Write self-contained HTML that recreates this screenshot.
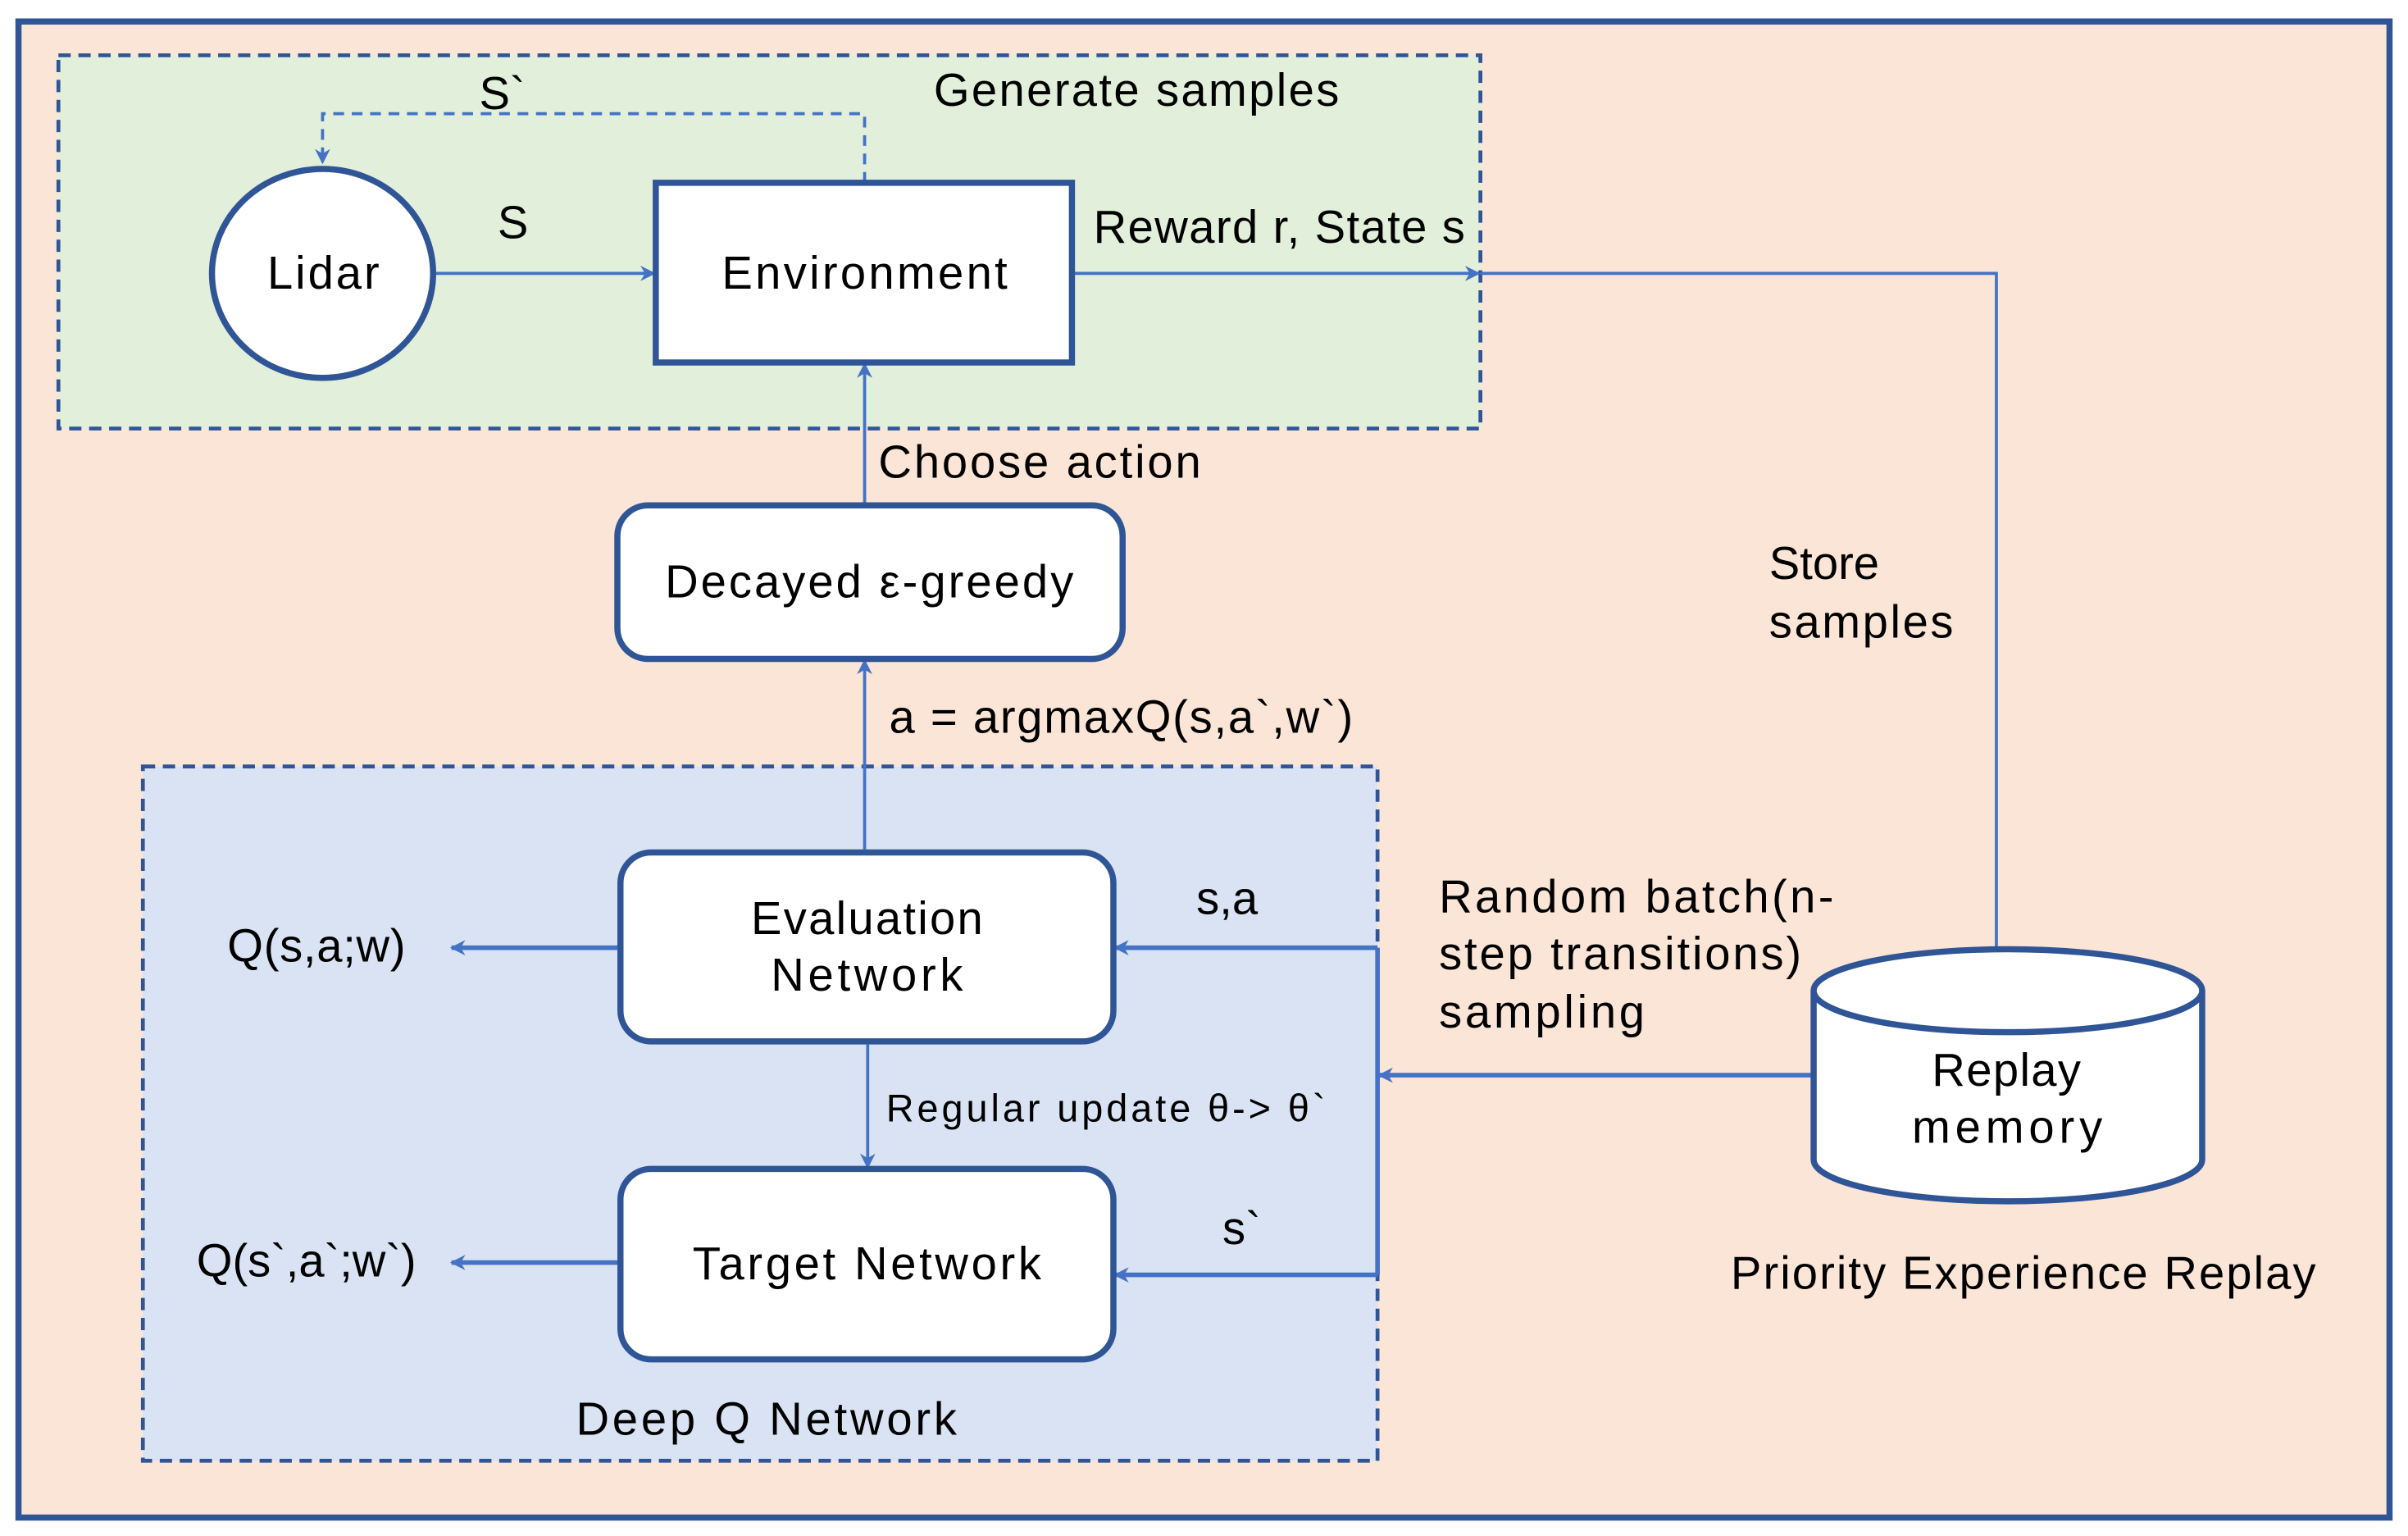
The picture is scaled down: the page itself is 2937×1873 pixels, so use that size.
<!DOCTYPE html>
<html><head><meta charset="utf-8"><style>
html,body{margin:0;padding:0;background:#fff;}
svg{display:block;}
text{font-family:"Liberation Sans",sans-serif;fill:#000;}
</style></head><body>
<svg width="2937" height="1873" viewBox="0 0 1568 1000" xmlns="http://www.w3.org/2000/svg">
<defs>
<marker id="ar" markerWidth="10" markerHeight="10" refX="9" refY="5" orient="auto" markerUnits="userSpaceOnUse">
<path d="M0,0 L10,5 L0,10 L3,5 Z" fill="#4472c4"/></marker>
</defs>
<rect x="0" y="0" width="1568" height="1000" fill="#fff"/>
<rect x="12" y="14" width="1544" height="974" fill="#fbe5d6" stroke="#2f5597" stroke-width="4"/>
<rect x="38" y="36" width="926" height="243" fill="#e2efda" stroke="#2f5597" stroke-width="2.5" stroke-dasharray="8,5"/>
<rect x="93" y="499" width="804" height="452" fill="#dae3f3" stroke="#2f5597" stroke-width="2.5" stroke-dasharray="8,5"/>

<g stroke="#4472c4" stroke-width="2" fill="none">
<path d="M563,119 V74 H210 V106" stroke-dasharray="7,5" marker-end="url(#ar)"/>
<path d="M284,178 L426,178" marker-end="url(#ar)"/>
<path d="M698,178 L963,178" marker-end="url(#ar)"/>
<path d="M964,178 H1300 V618"/>
<path d="M563,328 V237" marker-end="url(#ar)"/>
<path d="M563,553 V430" marker-end="url(#ar)"/>
<path d="M565,680 V760" marker-end="url(#ar)"/>
<path d="M402,617 H294" stroke-width="3" marker-end="url(#ar)"/>
<path d="M402,822 H294" stroke-width="3" marker-end="url(#ar)"/>
<path d="M897,617 V830" stroke-width="3"/>
<path d="M897,617 H726" stroke-width="3" marker-end="url(#ar)"/>
<path d="M897,830 H726" stroke-width="3" marker-end="url(#ar)"/>
<path d="M1181,700 H898" stroke-width="3" marker-end="url(#ar)"/>
</g>

<ellipse cx="210" cy="178" rx="72" ry="68" fill="#fff" stroke="#2f5597" stroke-width="4"/>
<rect x="427" y="119" width="271" height="117" fill="#fff" stroke="#2f5597" stroke-width="4"/>
<rect x="402" y="329" width="329" height="100" rx="20" fill="#fff" stroke="#2f5597" stroke-width="4"/>
<rect x="404" y="555" width="321" height="123" rx="20" fill="#fff" stroke="#2f5597" stroke-width="4"/>
<rect x="404" y="761" width="321" height="124" rx="20" fill="#fff" stroke="#2f5597" stroke-width="4"/>

<path d="M1181,645 V755 A126,27 0 0 0 1434,755 V645" fill="#fff" stroke="#2f5597" stroke-width="4"/>
<ellipse cx="1307.5" cy="645" rx="126.5" ry="27" fill="#fff" stroke="#2f5597" stroke-width="4"/>

<g font-size="30">
<text x="174" y="188" textLength="73">Lidar</text>
<text x="470" y="188" textLength="186">Environment</text>
<text x="433" y="389" textLength="266">Decayed ε-greedy</text>
<text x="489" y="608" textLength="151">Evaluation</text>
<text x="502" y="645" textLength="125">Network</text>
<text x="451" y="833" textLength="227">Target Network</text>
<text x="1258" y="707" textLength="97">Replay</text>
<text x="1245" y="744" textLength="124">memory</text>
<text x="608" y="69" textLength="264">Generate samples</text>
<text x="312" y="71">S`</text>
<text x="324" y="155">S</text>
<text x="712" y="158" textLength="242">Reward r, State s</text>
<text x="572" y="311" textLength="210">Choose action</text>
<text x="579" y="477" textLength="302">a = argmaxQ(s,a`,w`)</text>
<text x="1152" y="377">Store</text>
<text x="1152" y="415" textLength="120">samples</text>
<text x="779" y="595">s,a</text>
<text x="796" y="810">s`</text>
<text x="937" y="594" textLength="257">Random batch(n-</text>
<text x="937" y="631" textLength="236">step transitions)</text>
<text x="937" y="669" textLength="134">sampling</text>
<text x="148" y="626" textLength="116">Q(s,a;w)</text>
<text x="128" y="831" textLength="143">Q(s`,a`;w`)</text>
<text x="1127" y="839" textLength="381">Priority Experience Replay</text>
<text x="375" y="934" textLength="248">Deep Q Network</text>
<text x="577" y="730" font-size="25" textLength="286">Regular update θ-&gt; θ`</text>
</g>
</svg>
</body></html>
